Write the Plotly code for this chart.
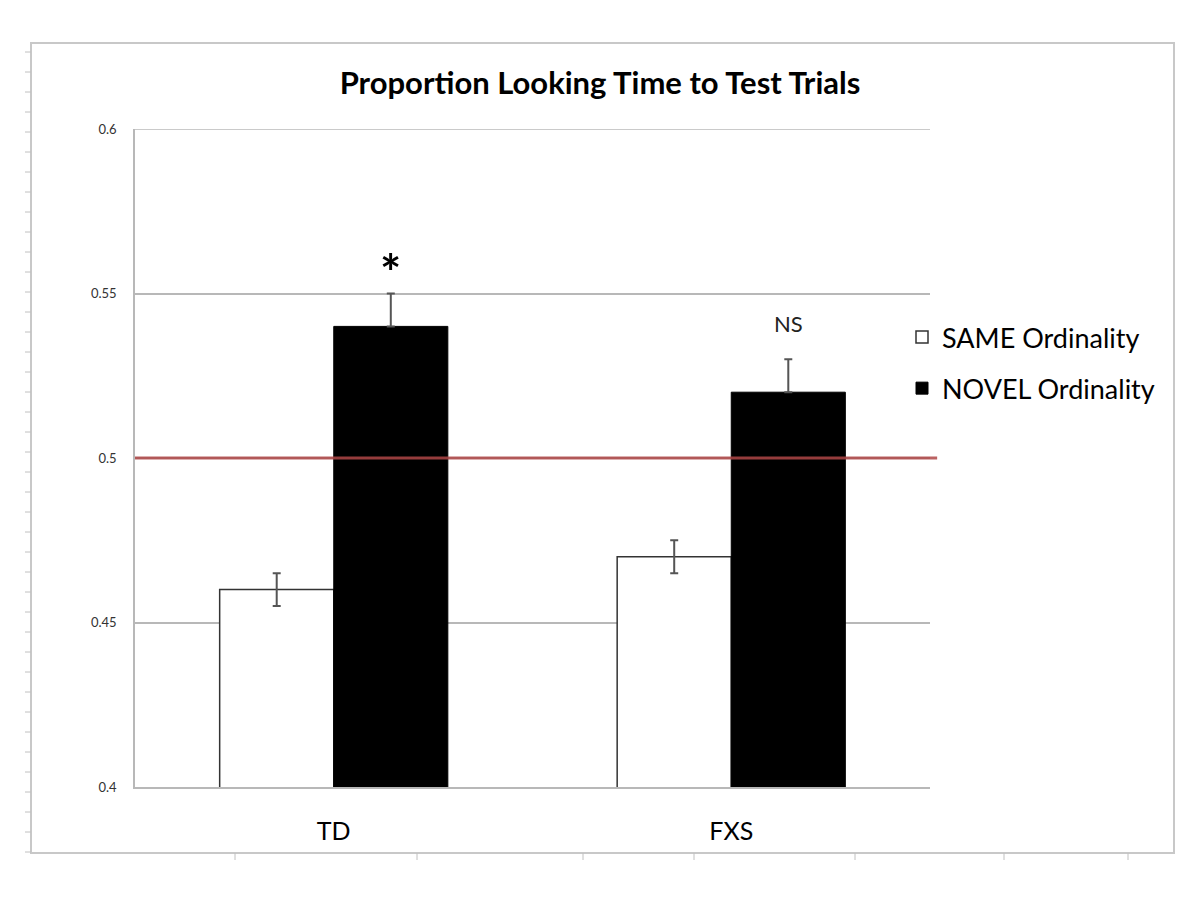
import plotly.graph_objects as go

categories = ["TD", "FXS"]
same_values = [0.46, 0.47]
same_err = [0.005, 0.005]
novel_values = [0.54, 0.52]
novel_err = [0.01, 0.01]
chance_level = 0.5
y_ticks = [0.4, 0.45, 0.5, 0.55, 0.6]
y_tick_labels = ["0.4", "0.45", "0.5", "0.55", "0.6"]
sig_labels = ["*", "NS"]

FONT = "Lato"
ERR_COLOR = "#555555"

# page has an 8px body margin; work in page pixels and shift
OFF = 8
W, H = 1200 - 2 * OFF, 900 - 2 * OFF
L, R, T, B = 135 - OFF, 930 - OFF, 129 - OFF, 787 - OFF


def px(x):
    return (x - OFF - L) / (R - L)


def py(y):
    return (B - (y - OFF)) / (B - T)


fig = go.Figure()
fig.add_trace(go.Bar(
    x=categories, y=same_values, name="SAME Ordinality",
    marker=dict(color="white", line=dict(color="#333333", width=1.5)),
    error_y=dict(type="data", array=same_err, color=ERR_COLOR, thickness=2, width=4),
    legendgroup="a",
))
fig.add_trace(go.Bar(
    x=categories, y=novel_values, name="NOVEL Ordinality",
    marker=dict(color="black", line=dict(color="black", width=1)),
    error_y=dict(type="data", symmetric=False, array=novel_err, arrayminus=[0, 0],
                 color=ERR_COLOR, thickness=2, width=4),
    legendgroup="b",
))

# top gridline at range max
fig.add_shape(type="line", xref="paper", yref="y", x0=0, x1=1,
              y0=y_ticks[-1], y1=y_ticks[-1],
              line=dict(color="#b8b8b8", width=1.5), layer="below")

# chance line
fig.add_shape(type="line", xref="paper", yref="y", x0=0, x1=1.009,
              y0=chance_level, y1=chance_level,
              line=dict(color="rgba(175,70,70,0.85)", width=3), layer="above")

# significance labels
fig.add_annotation(x=categories[0], y=novel_values[0] + novel_err[0], text="<b>" + sig_labels[0] + "</b>",
                   xshift=57, yshift=22, showarrow=False,
                   font=dict(family=FONT, size=50, color="black"))
fig.add_annotation(x=categories[1], y=novel_values[1] + novel_err[1], text=sig_labels[1],
                   xshift=57, yshift=36, showarrow=False,
                   font=dict(family=FONT, size=22, color="#222222"))

# outer chart frame (Excel chart area)
fig.add_shape(type="rect", xref="paper", yref="paper",
              x0=px(31), x1=px(1174), y0=py(853), y1=py(43),
              line=dict(color="#c8c8c8", width=2), layer="below")
for yy in range(52, 854, 20):
    fig.add_shape(type="line", xref="paper", yref="paper",
                  x0=px(25), x1=px(31), y0=py(yy), y1=py(yy),
                  line=dict(color="#c0c0c0", width=1))
for xx in [235, 417, 583, 694, 855, 1004, 1128]:
    fig.add_shape(type="line", xref="paper", yref="paper",
                  x0=px(xx), x1=px(xx), y0=py(853), y1=py(860),
                  line=dict(color="#c0c0c0", width=1))

fig.update_layout(
    width=W, height=H,
    margin=dict(l=L, r=W - R, t=T, b=H - B),
    paper_bgcolor="white", plot_bgcolor="white",
    barmode="group", bargap=0.426, bargroupgap=0,
    title=dict(text="<b>Proportion Looking Time to Test Trials</b>",
               x=px(600), xref="paper", xanchor="center",
               y=1 - (83 - OFF) / H, yref="container", yanchor="middle",
               font=dict(family=FONT, size=31, color="black")),
    font=dict(family=FONT, color="black"),
    legend=dict(x=px(902), y=py(313), xanchor="left", yanchor="top",
                font=dict(family=FONT, size=27, color="black"),
                traceorder="grouped", tracegroupgap=13,
                bgcolor="rgba(0,0,0,0)", itemwidth=30),
    showlegend=True,
)
fig.update_yaxes(range=[0.4, 0.6], tickvals=y_ticks, ticktext=y_tick_labels,
                 showgrid=True, gridcolor="#b8b8b8", gridwidth=1.5,
                 showline=True, linecolor="#b8b8b8", linewidth=1.5,
                 zeroline=False, ticks="", ticklabelstandoff=14,
                 tickfont=dict(family=FONT, size=13, color="#333333"))
fig.update_xaxes(showline=True, linecolor="#b8b8b8", linewidth=1.5,
                 ticks="", ticklabelstandoff=21,
                 tickfont=dict(family=FONT, size=25, color="black"))

fig.write_html("out.html")
